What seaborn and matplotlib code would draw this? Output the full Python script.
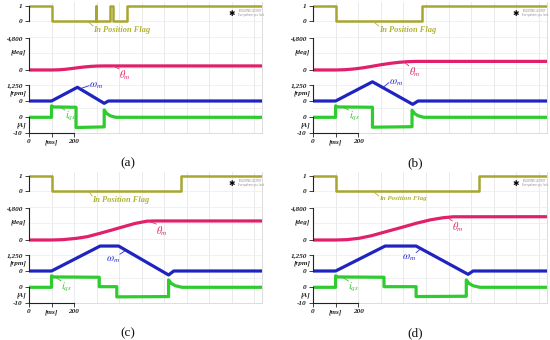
import matplotlib
matplotlib.use('Agg')
import matplotlib.pyplot as plt
import seaborn as sns

sns.set_theme(style='white')
plt.rcParams['font.family'] = ['Liberation Serif', 'DejaVu Serif']
plt.rcParams['mathtext.fontset'] = 'stix'

T_END = 1035  # ms shown on the scope screen

# ---------------- data read off the scope captures (time in ms) ----------------
# (a)
flag_t_a = [0, 100, 100, 296, 296, 298, 298, 360, 360, 375, 375, 434, 434, T_END]
flag_v_a = [1, 1, 0, 0, 1, 1, 0, 0, 1, 1, 0, 0, 1, 1]
theta_t_a = [0, 100, 130, 160, 190, 215, 245, 275, 305, 335, T_END]
theta_v_a = [0, 0, 25, 100, 220, 330, 450, 540, 590, 605, 605]
omega_t_a = [0, 100, 215, 334, 353, T_END]
omega_v_a = [0, 0, 1070, -180, 0, 0]
iqs_t_a = [0, 100, 100, 110, 209, 209, 334, 334, 345, 360, 385, T_END]
iqs_v_a = [0, 0, 7.3, 6.6, 6.4, -6.5, -6.1, 4.7, 2.5, 1.0, 0, 0]

# (b)
flag_t_b = [0, 100, 100, 483, 483, T_END]
flag_v_b = [1, 1, 0, 0, 1, 1]
theta_t_b = [0, 100, 140, 180, 220, 263, 300, 340, 380, 420, 460, T_END]
theta_v_b = [0, 0, 40, 150, 320, 560, 780, 980, 1140, 1240, 1280, 1280]
omega_t_b = [0, 100, 263, 441, 465, T_END]
omega_v_b = [0, 0, 1500, -260, 0, 0]
iqs_t_b = [0, 100, 100, 110, 263, 263, 438, 438, 450, 465, 490, T_END]
iqs_v_b = [0, 0, 7.3, 6.6, 6.4, -6.3, -6.0, 4.5, 2.3, 1.0, 0, 0]

# (c)
flag_t_c = [0, 100, 100, 673, 673, T_END]
flag_v_c = [1, 1, 0, 0, 1, 1]
theta_t_c = [0, 100, 150, 212, 260, 316, 370, 420, 470, 524, 560, T_END]
theta_v_c = [0, 0, 50, 250, 500, 1000, 1500, 1980, 2450, 2800, 2830, 2830]
omega_t_c = [0, 100, 316, 398, 620, 643, T_END]
omega_v_c = [0, 0, 1950, 1950, -310, 0, 0]
iqs_t_c = [0, 100, 100, 110, 312, 312, 390, 390, 620, 620, 632, 650, 680, T_END]
iqs_v_c = [0, 0, 7.3, 6.6, 6.4, 0.4, 0.4, -6.1, -5.9, 4.7, 2.5, 1.0, 0, 0]

# (d)
flag_t_d = [0, 100, 100, 735, 735, T_END]
flag_v_d = [1, 1, 0, 0, 1, 1]
theta_t_d = [0, 100, 150, 203, 260, 322, 390, 456, 520, 576, 620, T_END]
theta_v_d = [0, 0, 50, 250, 650, 1230, 1850, 2480, 3000, 3310, 3450, 3460]
omega_t_d = [0, 100, 319, 456, 686, 708, T_END]
omega_v_d = [0, 0, 1950, 1950, -260, 0, 0]
iqs_t_d = [0, 100, 100, 110, 314, 314, 456, 456, 678, 678, 690, 708, 738, T_END]
iqs_v_d = [0, 0, 7.3, 6.6, 6.4, 0.4, 0.4, -5.9, -5.7, 4.7, 2.5, 1.0, 0, 0]

x_ticks = [0, 100, 200]
x_tick_labels = ['0', '[ms]', '200']

panels = {
    'a': dict(flag=(flag_t_a, flag_v_a), theta=(theta_t_a, theta_v_a),
              omega=(omega_t_a, omega_v_a), iqs=(iqs_t_a, iqs_v_a)),
    'b': dict(flag=(flag_t_b, flag_v_b), theta=(theta_t_b, theta_v_b),
              omega=(omega_t_b, omega_v_b), iqs=(iqs_t_b, iqs_v_b)),
    'c': dict(flag=(flag_t_c, flag_v_c), theta=(theta_t_c, theta_v_c),
              omega=(omega_t_c, omega_v_c), iqs=(iqs_t_c, iqs_v_c)),
    'd': dict(flag=(flag_t_d, flag_v_d), theta=(theta_t_d, theta_v_d),
              omega=(omega_t_d, omega_v_d), iqs=(iqs_t_d, iqs_v_d)),
}

# ---------------- layout (pixels on a 550x340 canvas) ----------------
W, H = 550, 340
TOP, BOT = 2, 133          # plot area top / bottom inside a panel
geom = {'a': (29, 262, 0), 'b': (313, 547, 0), 'c': (29, 262, 170), 'd': (313, 547, 170)}
captions = {'a': (128, 163), 'b': (415, 163), 'c': (128, 333), 'd': (415, 333)}

# channel: (value0, pixel0, value1, pixel1), spine bounds, tick labels, unit
channels = {
    'flag': dict(anchor=(0, 21, 1, 6), bounds=(0, 1), ticks=[1, 0], labels=['1', '0'],
                 unit=None, color='#a8a630', lw=1.8),
    'theta': dict(anchor=(0, 70, 4800, 37.7), bounds=(0, 4800), ticks=[4800, 0],
                  labels=['4,800', '0'], unit=('[deg]', 2680), color='#e0206a', lw=2.3),
    'omega': dict(anchor=(0, 101, 1250, 85), bounds=(0, 1250), ticks=[1250, 0],
                  labels=['1,250', '0'], unit=('[rpm]', 625), color='#1f24c0', lw=2.3),
    'iqs': dict(anchor=(0, 117.3, -10, 133), bounds=(-10, 0), ticks=[0, -10],
                labels=['0', '-10'], unit=('[A]', -5.0), color='#2ecc2e', lw=2.3),
}

# annotation leaders: (t, value, dx px, dy px, ha, va, relpos)
notes = {
    'a': dict(flag=(258, 0, 6, -5, 'left', 'top', (0, 1)),
              theta=(374, 600, 6, -3, 'left', 'top', (0, 1)),
              omega=(227, 960, 9, 3, 'left', 'center', (0, 0.5)),
              iqs=(138, 6.5, 5, -3, 'left', 'top', (0, 1))),
    'b': dict(flag=(264, 0, 6, -5, 'left', 'top', (0, 1)),
              theta=(402, 1200, 5, -4, 'left', 'top', (0, 1)),
              omega=(309, 1045, 6, 5, 'left', 'center', (0, 0.5)),
              iqs=(135, 6.5, 5, -3, 'left', 'top', (0, 1))),
    'c': dict(flag=(263, 0, 4, -5, 'left', 'top', (0, 1)),
              theta=(530, 2810, 8, -3, 'left', 'top', (0, 1)),
              omega=(430, 1620, -6, -4, 'right', 'top', (1, 1)),
              iqs=(116, 6.6, 6, -4, 'left', 'top', (0, 1))),
    'd': dict(flag=(264, 0, 6, -5, 'left', 'top', (0, 1)),
              theta=(590, 3430, 6, -4, 'left', 'top', (0, 1)),
              omega=(478, 1750, -5, -4, 'right', 'top', (1, 1)),
              iqs=(130, 6.5, 6, -4, 'left', 'top', (0, 1))),
}
note_text = {'flag': 'In Position Flag', 'theta': r'$\theta_m$',
             'omega': r'$\omega_m$', 'iqs': r'$i_{qs}$'}
note_color = {'flag': '#b2b236', 'theta': '#e0306e', 'omega': '#2a2ad0', 'iqs': '#33c033'}

tick_font = dict(family='Liberation Serif', style='italic', weight='bold', size=5.2)


def ylim_for(v0, p0, v1, p1):
    s = (v1 - v0) / (p0 - p1)
    return v0 - (BOT - p0) * s, v0 + (p0 - TOP) * s


fig = plt.figure(figsize=(W / 100, H / 100), dpi=100)

for key, data in panels.items():
    L, R, oy = geom[key]
    rect = [L / W, 1 - (oy + BOT) / H, (R - L) / W, (BOT - TOP) / H]

    # background: faint scope grid + frame
    base = fig.add_axes(rect)
    base.set_xlim(0, T_END)
    base.set_ylim(0, 1)
    base.set_xticks([])
    base.set_yticks([])
    for side in ['left', 'top']:
        base.spines[side].set_visible(False)
    for side in ['right', 'bottom']:
        base.spines[side].set_color('#dcdcdc')
        base.spines[side].set_linewidth(0.7)
    for gx in range(100, 1001, 100):
        base.axvline(gx, color='#e6e6e6', lw=0.6, zorder=0)
    for gp in [21.5, 37.5, 53, 68.5, 85, 108]:
        base.axhline((BOT - gp) / (BOT - TOP), color='#ececec', lw=0.5, zorder=0)
    base.text(0.868, 0.915, '\u2731', transform=base.transAxes, fontsize=5.5,
              color='black', family='DejaVu Sans', ha='center', va='center')
    base.text(0.895, 0.915, 'TELEDYNE LECROY\nEverywhere you look', transform=base.transAxes,
              fontsize=1.8, color='#8a8a8a', family='DejaVu Sans', ha='left', va='center')

    for name, ch in channels.items():
        t, v = data[name]
        ax = fig.add_axes(rect)
        ax.patch.set_alpha(0)
        sns.lineplot(x=t, y=v, ax=ax, estimator=None, sort=False,
                     color=ch['color'], lw=ch['lw'])
        ax.set_xlim(0, T_END)
        ax.set_ylim(*ylim_for(*ch['anchor']))
        ax.set_xlabel('')
        ax.set_ylabel('')
        for side in ['top', 'right', 'bottom']:
            ax.spines[side].set_visible(False)
        ax.spines['left'].set_bounds(*ch['bounds'])
        ax.spines['left'].set_color('#222222')
        ax.spines['left'].set_linewidth(0.8)
        ax.set_yticks(ch['ticks'])
        ax.set_yticklabels(ch['labels'], fontdict=tick_font, color='#222222')
        ax.tick_params(axis='y', left=True, length=3, width=0.6, pad=1.5, color='#222222')
        if ch['unit'] is not None:
            ax.annotate(ch['unit'][0], xy=(0, ch['unit'][1]), xycoords=ax.get_yaxis_transform(),
                        xytext=(-2.5, 0), textcoords='offset pixels', ha='right', va='center',
                        color='#222222', **tick_font)
        if name == 'iqs':
            ax.spines['bottom'].set_visible(True)
            ax.spines['bottom'].set_bounds(0, 200)
            ax.spines['bottom'].set_color('#222222')
            ax.spines['bottom'].set_linewidth(0.8)
            ax.set_xticks(x_ticks)
            ax.set_xticklabels(x_tick_labels, fontdict=tick_font, color='#222222')
            ax.tick_params(axis='x', bottom=True, length=3, width=0.6, pad=1.5, color='#222222')
        else:
            ax.set_xticks([])

        nt, nv, dx, dy, ha, va, rp = notes[key][name]
        if name == 'flag':
            fs = 5 if key == 'd' else 6
            fkw = dict(family='Liberation Serif', style='italic', weight='bold', fontsize=fs)
        else:
            fkw = dict(fontsize=7.5)
        ax.annotate(note_text[name], xy=(nt, nv), xytext=(dx, dy), textcoords='offset pixels',
                    ha=ha, va=va, color=note_color[name],
                    bbox=dict(boxstyle='square,pad=0', fc='none', ec='none'),
                    arrowprops=dict(arrowstyle='-', color=note_color[name], lw=0.6,
                                    shrinkA=0, shrinkB=0, relpos=rp, patchA=None), **fkw)

for key, (cx, cy) in captions.items():
    fig.text(cx / W, 1 - cy / H, '(%s)' % key, ha='center', va='center',
             fontsize=9.5, family='Liberation Serif', color='#111111')

fig.savefig('out.png', dpi=100)
